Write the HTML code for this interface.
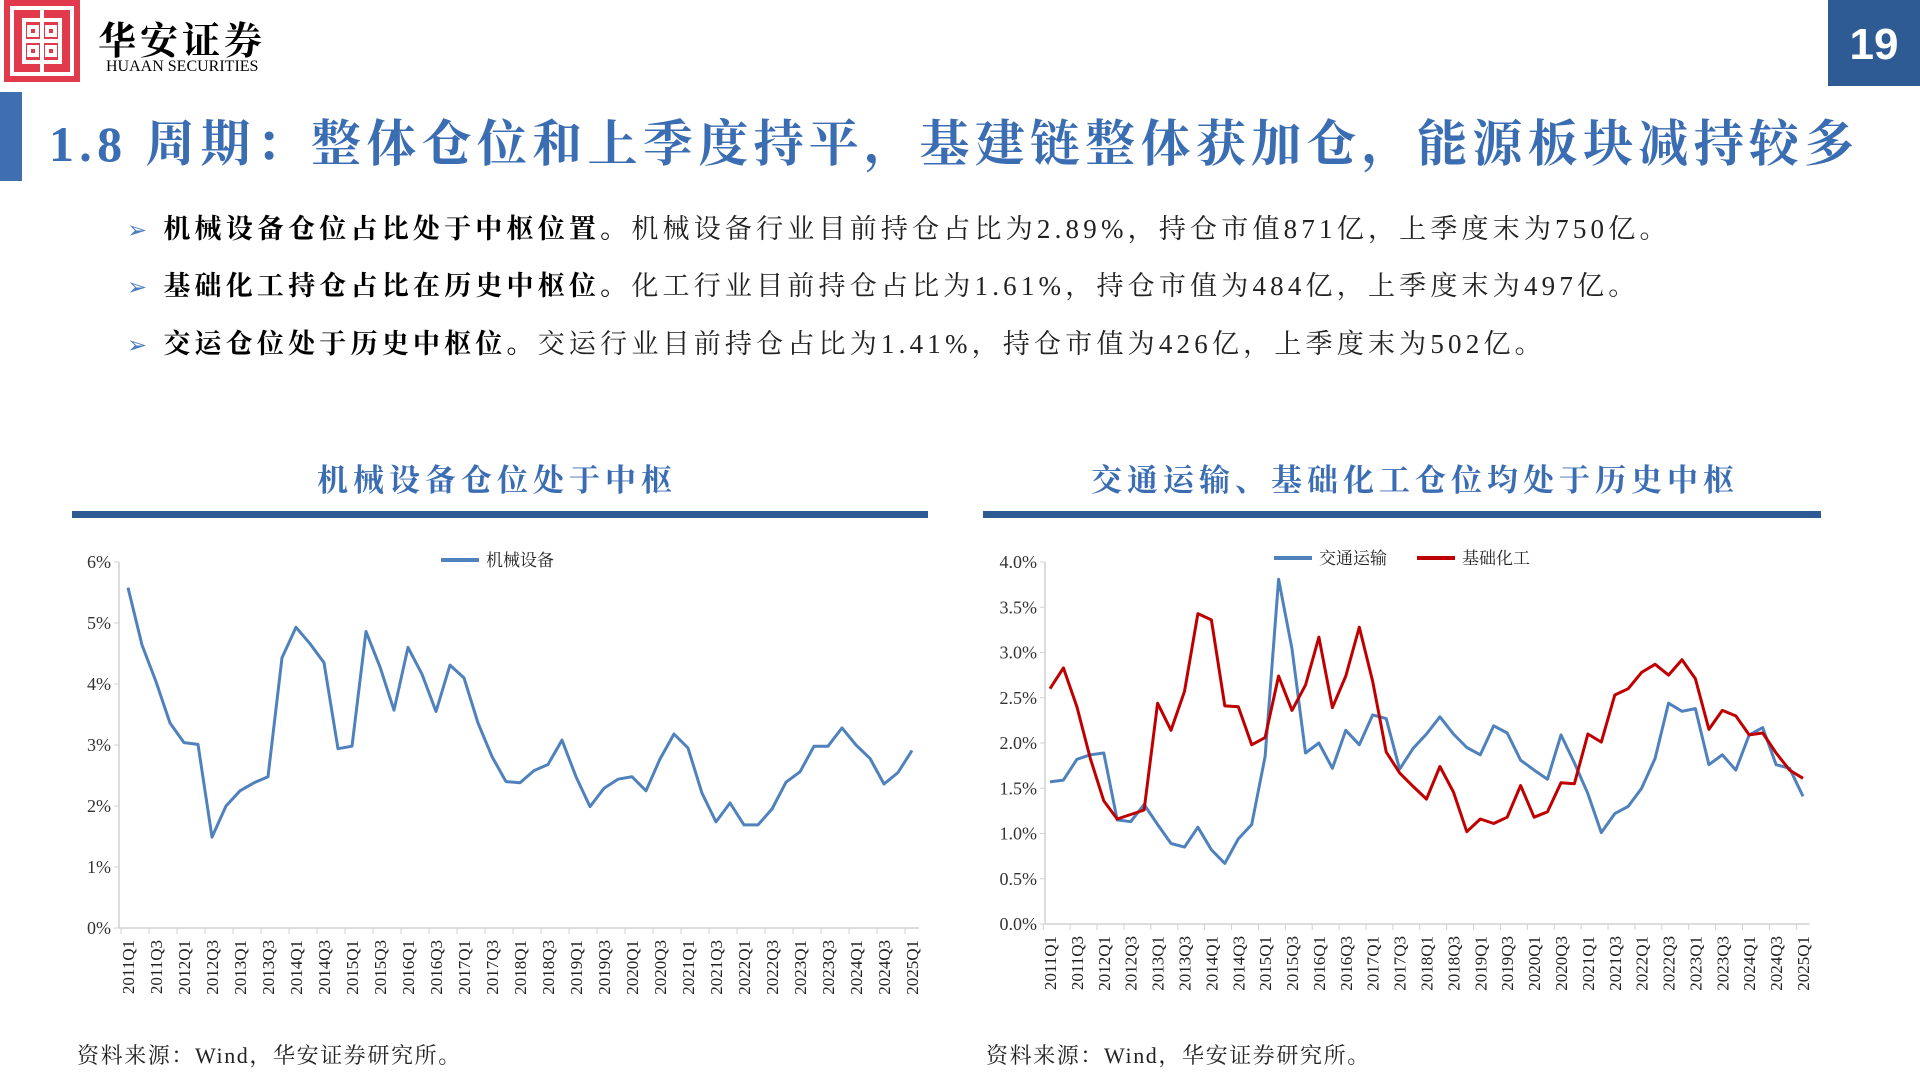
<!DOCTYPE html>
<html><head><meta charset="utf-8">
<style>
body{margin:0;width:1920px;height:1080px;background:#fff;overflow:hidden;position:relative;font-family:"Liberation Serif","Noto Serif CJK SC",serif;}
.abs{position:absolute;}
.bul{position:absolute;left:127px;font-size:27px;letter-spacing:4.2px;color:#222;white-space:nowrap;}
.bul b{color:#000;}
.arrow{color:#4a7cc0;margin-right:12px;font-size:24px;}
</style></head>
<body>
<div class="abs" style="left:4px;top:0;width:76px;height:82px;background:#e03a4c;">
 <svg width="76" height="82" viewBox="0 0 76 82"><g fill="none" stroke="#fff" stroke-width="4"><rect x="8" y="8" width="60" height="66"/><rect x="20" y="20" width="36" height="42"/><line x1="38" y1="8" x2="38" y2="74"/><line x1="20" y1="41" x2="56" y2="41"/><rect x="25" y="27" width="8" height="8"/><rect x="43" y="27" width="8" height="8"/><rect x="25" y="47" width="8" height="8"/><rect x="43" y="47" width="8" height="8"/></g></svg>
</div>
<div class="abs" style="left:98px;top:10px;font-size:38px;font-family:'Noto Serif CJK SC',serif;font-weight:bold;letter-spacing:4px;">华安证券</div>
<div class="abs" style="left:106px;top:58px;font-size:16px;">HUAAN SECURITIES</div>
<div class="abs" style="left:1828px;top:0;width:92px;height:86px;background:#2e5b93;color:#fff;font:bold 44px 'Liberation Sans',sans-serif;line-height:90px;text-align:center;">19</div>
<div class="abs" style="left:0;top:92px;width:22px;height:89px;background:#3f6fb0;"></div>
<div class="abs" style="left:49px;top:104px;font-size:50px;color:#3b6db3;font-weight:bold;white-space:nowrap;letter-spacing:5.3px;">1.8 周期：整体仓位和上季度持平，基建链整体获加仓，能源板块减持较多</div>
<div class="bul" style="top:207px;"><span class="arrow">➢</span><b>机械设备仓位占比处于中枢位置。</b>机械设备行业目前持仓占比为2.89%，持仓市值871亿，上季度末为750亿。</div>
<div class="bul" style="top:264px;"><span class="arrow">➢</span><b>基础化工持仓占比在历史中枢位。</b>化工行业目前持仓占比为1.61%，持仓市值为484亿，上季度末为497亿。</div>
<div class="bul" style="top:322px;"><span class="arrow">➢</span><b>交运仓位处于历史中枢位。</b>交运行业目前持仓占比为1.41%，持仓市值为426亿，上季度末为502亿。</div>

<svg id="charts" class="abs" style="left:0;top:0" width="1920" height="1080">
 <text x="497" y="491" text-anchor="middle" font-size="31" font-weight="bold" fill="#3b6db3" letter-spacing="5">机械设备仓位处于中枢</text>
 <rect x="72" y="511" width="856" height="7" fill="#2e5b93"/>
 <text x="1415" y="491" text-anchor="middle" font-size="31" font-weight="bold" fill="#3b6db3" letter-spacing="5">交通运输、基础化工仓位均处于历史中枢</text>
 <rect x="983" y="511" width="838" height="7" fill="#2e5b93"/>
 <text x="77" y="1063" font-size="22" fill="#222" letter-spacing="1.6">资料来源：Wind，华安证券研究所。</text>
 <text x="986" y="1063" font-size="22" fill="#222" letter-spacing="1.6">资料来源：Wind，华安证券研究所。</text>
 <g id="left"></g><g id="right"></g>
</svg>
<script>
const quarters=[];for(let y=2011;y<=2025;y++)for(let q=1;q<=4;q++){if(y===2025&&q>1)break;quarters.push(y+'Q'+q);}
const machinery=[5.58,4.64,4.04,3.36,3.04,3.01,1.49,2.0,2.25,2.38,2.48,4.43,4.93,4.66,4.35,2.94,2.98,4.86,4.28,3.57,4.6,4.16,3.55,4.31,4.10,3.36,2.81,2.40,2.38,2.58,2.68,3.08,2.48,1.99,2.29,2.44,2.48,2.25,2.77,3.18,2.95,2.21,1.74,2.05,1.69,1.69,1.95,2.39,2.56,2.98,2.98,3.28,3.0,2.78,2.36,2.55,2.91];
const transport=[1.57,1.59,1.82,1.87,1.89,1.15,1.13,1.32,1.10,0.89,0.85,1.07,0.82,0.67,0.94,1.10,1.85,3.81,3.04,1.89,2.0,1.72,2.14,1.98,2.31,2.27,1.71,1.94,2.10,2.29,2.10,1.95,1.87,2.19,2.11,1.81,1.70,1.60,2.09,1.78,1.44,1.01,1.22,1.30,1.50,1.83,2.44,2.35,2.38,1.76,1.87,1.70,2.09,2.17,1.76,1.72,1.41];
const chemical=[2.60,2.83,2.40,1.83,1.36,1.16,1.21,1.26,2.44,2.14,2.57,3.43,3.36,2.41,2.40,1.98,2.06,2.74,2.36,2.64,3.17,2.39,2.74,3.28,2.68,1.90,1.67,1.52,1.38,1.74,1.46,1.02,1.16,1.11,1.18,1.53,1.18,1.24,1.56,1.55,2.10,2.01,2.53,2.60,2.78,2.87,2.75,2.92,2.71,2.15,2.36,2.30,2.09,2.11,1.89,1.70,1.61];
const leftTicks=['0%','1%','2%','3%','4%','5%','6%'];
const rightTicks=['0.0%','0.5%','1.0%','1.5%','2.0%','2.5%','3.0%','3.5%','4.0%'];
const NS='http://www.w3.org/2000/svg';
function mk(p,tag,a){const e=document.createElementNS(NS,tag);for(const k in a)e.setAttribute(k,a[k]);p.appendChild(e);return e;}
function chart(g,o){
 const n=quarters.length;
 const xs=i=>o.x0+(o.x1-o.x0)*i/(n-1);
 const ys=v=>o.yb-(o.yb-o.yt)*v/o.max;
 const half=(o.x1-o.x0)/(n-1)/2;
 const ax=mk(g,'line',{x1:o.ax,y1:o.yt,x2:o.ax,y2:o.yb,stroke:'#d0d0d0','stroke-width':1.5});
 
 const bx=mk(g,'line',{x1:o.ax,y1:o.yb,x2:o.x1+half,y2:o.yb,stroke:'#d0d0d0','stroke-width':1.5});
 
 o.ticks.forEach((t,i)=>{const v=o.max*i/(o.ticks.length-1);const y=ys(v);
  mk(g,'line',{x1:o.ax-5,y1:y,x2:o.ax,y2:y,stroke:'#d0d0d0'});
  const tx=mk(g,'text',{x:o.ax-8,y:y+6,'text-anchor':'end','font-size':18,fill:'#333'});tx.textContent=t;
  });
 quarters.forEach((q,i)=>{if(i%2===0){const x=xs(i);
  mk(g,'line',{x1:x-half,y1:o.yb,x2:x-half,y2:o.yb+6,stroke:'#d0d0d0'});
  const tx=mk(g,'text',{transform:`translate(${x+6},${o.yb+12}) rotate(-90)`,'text-anchor':'end','font-size':17,fill:'#222'});tx.textContent=q;
  }});
 o.series.forEach(s=>{
  const pl=mk(g,'polyline',{points:s.data.map((v,i)=>xs(i).toFixed(1)+','+ys(v).toFixed(1)).join(' '),fill:'none',stroke:s.color,'stroke-width':3,'stroke-linejoin':'round'});
  
  const ll=mk(g,'line',{x1:s.lx,y1:o.ly,x2:s.lx+38,y2:o.ly,stroke:s.color,'stroke-width':4});
  
  const lt=mk(g,'text',{x:s.lx+45,y:o.ly+6,'font-size':17,fill:'#222'});lt.textContent=s.label;
  
 });
}
chart(document.getElementById('left'),{x0:128,x1:912,ax:119,yt:562,yb:928,max:6,ticks:leftTicks,ly:560,
 series:[{data:machinery,color:'#4f81bd',name:'machinery-line',label:'机械设备',lx:441}]});
chart(document.getElementById('right'),{x0:1050,x1:1803,ax:1045,yt:562,yb:924,max:4,ticks:rightTicks,ly:558,
 series:[{data:transport,color:'#4f81bd',name:'transport-line',label:'交通运输',lx:1274},{data:chemical,color:'#c00000',name:'chemical-line',label:'基础化工',lx:1417}]});
</script>
</body></html>
